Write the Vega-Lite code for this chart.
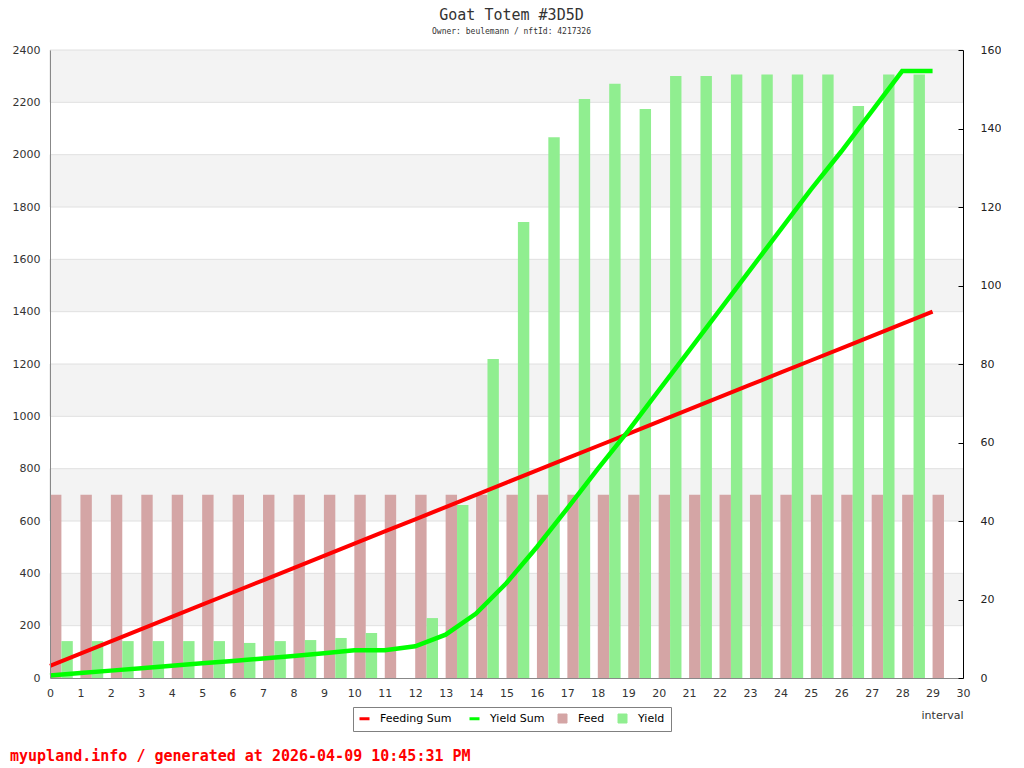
{
  "$schema": "https://vega.github.io/schema/vega-lite/v6.json",
  "autosize": {"type": "pad"},
  "padding": {"left": 10, "top": 8, "right": 0, "bottom": 0},
  "background": "white",
  "title": {
    "text": "Goat Totem #3D5D",
    "subtitle": "Owner: beulemann / nftId: 4217326",
    "font": "DejaVu Sans Mono",
    "fontSize": 15,
    "fontWeight": "normal",
    "color": "#333333",
    "subtitleFont": "DejaVu Sans Mono",
    "subtitleFontSize": 8,
    "subtitleColor": "#333333",
    "subtitlePadding": 5,
    "offset": 8,
    "anchor": "middle",
    "frame": "group",
    "dx": 5
  },
  "config": {
    "view": {"stroke": null},
    "concat": {"spacing": 10},
    "axisX": {
      "titleAnchor": "end",
      "titleFont": "DejaVu Sans",
      "titleFontSize": 11,
      "titleFontWeight": "normal",
      "titleColor": "#333333",
      "titlePadding": 11,
      "tickCount": 30,
      "format": "d",
      "grid": false,
      "ticks": false,
      "labelPadding": 9,
      "labelFont": "DejaVu Sans",
      "labelFontSize": 11,
      "labelColor": "#333333",
      "labelFlush": false,
      "labelOverlap": false,
      "domainColor": "#888888",
      "zindex": 1
    }
  },
  "datasets": {
    "bands": [
      {"lo": 200, "hi": 400},
      {"lo": 600, "hi": 800},
      {"lo": 1000, "hi": 1200},
      {"lo": 1400, "hi": 1600},
      {"lo": 1800, "hi": 2000},
      {"lo": 2200, "hi": 2400}
    ],
    "rows": [
      {"interval": 0, "feed": 700, "yield": 141, "feedingSum": 3.11, "yieldSum": 0.63},
      {"interval": 1, "feed": 700, "yield": 141, "feedingSum": 6.22, "yieldSum": 1.25},
      {"interval": 2, "feed": 700, "yield": 141, "feedingSum": 9.33, "yieldSum": 1.88},
      {"interval": 3, "feed": 700, "yield": 141, "feedingSum": 12.44, "yieldSum": 2.51},
      {"interval": 4, "feed": 700, "yield": 141, "feedingSum": 15.56, "yieldSum": 3.13},
      {"interval": 5, "feed": 700, "yield": 141, "feedingSum": 18.67, "yieldSum": 3.76},
      {"interval": 6, "feed": 700, "yield": 134, "feedingSum": 21.78, "yieldSum": 4.36},
      {"interval": 7, "feed": 700, "yield": 141, "feedingSum": 24.89, "yieldSum": 4.98},
      {"interval": 8, "feed": 700, "yield": 145, "feedingSum": 28.0, "yieldSum": 5.63},
      {"interval": 9, "feed": 700, "yield": 153, "feedingSum": 31.11, "yieldSum": 6.31},
      {"interval": 10, "feed": 700, "yield": 172, "feedingSum": 34.22, "yieldSum": 7.07},
      {"interval": 11, "feed": 700, "yield": 0, "feedingSum": 37.33, "yieldSum": 7.07},
      {"interval": 12, "feed": 700, "yield": 229, "feedingSum": 40.44, "yieldSum": 8.09},
      {"interval": 13, "feed": 700, "yield": 661, "feedingSum": 43.56, "yieldSum": 11.03},
      {"interval": 14, "feed": 700, "yield": 1219, "feedingSum": 46.67, "yieldSum": 16.44},
      {"interval": 15, "feed": 700, "yield": 1743, "feedingSum": 49.78, "yieldSum": 24.19},
      {"interval": 16, "feed": 700, "yield": 2067, "feedingSum": 52.89, "yieldSum": 33.38},
      {"interval": 17, "feed": 700, "yield": 2213, "feedingSum": 56.0, "yieldSum": 43.21},
      {"interval": 18, "feed": 700, "yield": 2271, "feedingSum": 59.11, "yieldSum": 53.31},
      {"interval": 19, "feed": 700, "yield": 2175, "feedingSum": 62.22, "yieldSum": 62.97},
      {"interval": 20, "feed": 700, "yield": 2301, "feedingSum": 65.33, "yieldSum": 73.2},
      {"interval": 21, "feed": 700, "yield": 2301, "feedingSum": 68.44, "yieldSum": 83.43},
      {"interval": 22, "feed": 700, "yield": 2306, "feedingSum": 71.56, "yieldSum": 93.68},
      {"interval": 23, "feed": 700, "yield": 2306, "feedingSum": 74.67, "yieldSum": 103.92},
      {"interval": 24, "feed": 700, "yield": 2306, "feedingSum": 77.78, "yieldSum": 114.17},
      {"interval": 25, "feed": 700, "yield": 2306, "feedingSum": 80.89, "yieldSum": 124.42},
      {"interval": 26, "feed": 700, "yield": 2186, "feedingSum": 84.0, "yieldSum": 134.14},
      {"interval": 27, "feed": 700, "yield": 2306, "feedingSum": 87.11, "yieldSum": 144.39},
      {"interval": 28, "feed": 700, "yield": 2306, "feedingSum": 90.22, "yieldSum": 154.64},
      {"interval": 29, "feed": 700, "yield": 0, "feedingSum": 93.33, "yieldSum": 154.64}
    ]
  },
  "vconcat": [
    {
      "width": 913,
      "height": 628,
      "layer": [
        {
          "layer": [
            {
              "data": {"name": "bands"},
              "mark": {"type": "rect", "fill": "#f3f3f3", "stroke": "#e0e0e0", "strokeWidth": 1},
              "encoding": {
                "y": {
                  "field": "lo",
                  "type": "quantitative",
                  "scale": {"domain": [0, 2400], "nice": false, "zero": true},
                  "axis": {
                    "orient": "left",
                    "title": null,
                    "values": [0, 200, 400, 600, 800, 1000, 1200, 1400, 1600, 1800, 2000, 2200, 2400],
                    "format": "d",
                    "grid": false,
                    "ticks": false,
                    "labelPadding": 10,
                    "labelFont": "DejaVu Sans",
                    "labelFontSize": 11,
                    "labelColor": "#333333",
                    "domainColor": "#888888",
                    "domainWidth": 1,
                    "zindex": 1
                  }
                },
                "y2": {"field": "hi"}
              }
            },
            {
              "data": {"name": "rows"},
              "mark": {"type": "bar", "width": 11.4, "xOffset": 5.7},
              "encoding": {
                "x": {
                  "field": "interval",
                  "type": "quantitative",
                  "scale": {"domain": [0, 30], "nice": false, "zero": true, "padding": 0},
                  "axis": {"title": "interval"}
                },
                "y": {"field": "feed", "type": "quantitative"},
                "color": {
                  "datum": "Feed",
                  "scale": {
                    "domain": ["Feeding Sum", "Yield Sum", "Feed", "Yield"],
                    "range": ["#ff0000", "#00ff00", "#d4a5a5", "#90ee90"]
                  },
                  "legend": {
                    "orient": "none",
                    "legendX": 303,
                    "legendY": 657,
                    "direction": "horizontal",
                    "title": null,
                    "strokeColor": "#808080",
                    "padding": 6,
                    "labelFont": "DejaVu Sans",
                    "labelFontSize": 11,
                    "labelColor": "#000000",
                    "labelOffset": 10,
                    "columnPadding": 11,
                    "symbolSize": 100,
                    "encode": {
                      "symbols": {
                        "update": {
                          "shape": {"signal": "datum.value === 'Feed' || datum.value === 'Yield' ? 'square' : 'stroke'"},
                          "size": {"signal": "datum.value === 'Feed' || datum.value === 'Yield' ? 81 : 100"},
                          "fill": {"signal": "datum.value === 'Feed' || datum.value === 'Yield' ? scale('color', datum.value) : 'transparent'"},
                          "stroke": {"signal": "datum.value === 'Feed' || datum.value === 'Yield' ? '#808080' : scale('color', datum.value)"},
                          "strokeWidth": {"signal": "datum.value === 'Feed' || datum.value === 'Yield' ? 1 : 3"},
                          "opacity": {"value": 1},
                          "fillOpacity": {"value": 1},
                          "strokeOpacity": {"value": 1}
                        }
                      }
                    }
                  }
                }
              }
            },
            {
              "data": {"name": "rows"},
              "mark": {"type": "bar", "width": 11.4, "xOffset": 17.1},
              "encoding": {
                "x": {"field": "interval", "type": "quantitative"},
                "y": {"field": "yield", "type": "quantitative"},
                "color": {"datum": "Yield"}
              }
            }
          ]
        },
        {
          "layer": [
            {
              "data": {"name": "rows"},
              "mark": {"type": "line", "strokeWidth": 4},
              "encoding": {
                "x": {"field": "interval", "type": "quantitative"},
                "y": {
                  "field": "feedingSum",
                  "type": "quantitative",
                  "scale": {"domain": [0, 160], "nice": false, "zero": true},
                  "axis": {
                    "orient": "right",
                    "title": null,
                    "values": [0, 10, 20, 30, 40, 50, 60, 70, 80, 90, 100, 110, 120, 130, 140, 150, 160],
                    "labelExpr": "datum.value % 20 === 0 ? datum.label : ''",
                    "grid": false,
                    "ticks": true,
                    "tickColor": "#000000",
                    "tickSize": {"condition": {"test": "datum.value % 20 !== 0", "value": -3}, "value": -5},
                    "labelPadding": 22,
                    "labelFont": "DejaVu Sans",
                    "labelFontSize": 11,
                    "labelColor": "#222222",
                    "domainColor": "#000000",
                    "zindex": 1
                  }
                },
                "color": {"datum": "Feeding Sum"}
              }
            },
            {
              "data": {"name": "rows"},
              "mark": {"type": "line", "strokeWidth": 4.5},
              "encoding": {
                "x": {"field": "interval", "type": "quantitative"},
                "y": {"field": "yieldSum", "type": "quantitative"},
                "color": {"datum": "Yield Sum"}
              }
            }
          ]
        }
      ],
      "resolve": {"scale": {"y": "independent"}}
    },
    {
      "width": 913,
      "height": 1,
      "title": {
        "text": "myupland.info / generated at 2026-04-09 10:45:31 PM",
        "orient": "bottom",
        "anchor": "start",
        "frame": "group",
        "dx": -40,
        "offset": 13,
        "font": "DejaVu Sans Mono",
        "fontSize": 15,
        "fontWeight": "bold",
        "color": "#ff0000"
      },
      "data": {"values": [{"n": 0}]},
      "mark": {"type": "point", "opacity": 0},
      "encoding": {}
    }
  ]
}
